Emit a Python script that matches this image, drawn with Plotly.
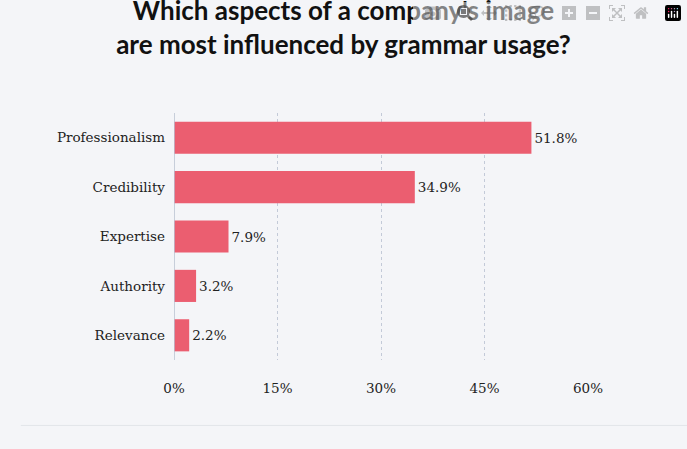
import plotly.graph_objects as go

categories = ["Professionalism", "Credibility", "Expertise", "Authority", "Relevance"]
values = [51.8, 34.9, 7.9, 3.2, 2.2]
tick_vals = [0, 15, 30, 45, 60]
tick_text = ["0%", "15%", "30%", "45%", "60%"]

fig = go.Figure(go.Bar(
    x=values, y=categories, orientation="h",
    marker=dict(color="#eb5e70", line=dict(width=0)),
    width=0.65,
    text=[f"{v}%" for v in values], textposition="outside",
    textfont=dict(family="DejaVu Serif", size=13.5, color="#222"),
    cliponaxis=False,
))
fig.update_layout(
    width=687, height=449,
    paper_bgcolor="#f4f5f8", plot_bgcolor="#f4f5f8",
    margin=dict(l=174, r=99, t=113, b=89),
    title=dict(text="Which aspects of a company's image<br>are most influenced by grammar usage?",
               x=0.5, xanchor="center", y=0.955, yanchor="top",
               font=dict(family="Lato", size=26, color="#111", weight="bold")),
    showlegend=False,
    xaxis=dict(range=[0, 60], tickvals=tick_vals, ticktext=tick_text,
               showgrid=True, gridcolor="#c3cad8", griddash="3px,3px", gridwidth=1,
               zeroline=False, showline=False,
               tickfont=dict(family="DejaVu Serif", size=13.5, color="#222"),
               ticks="", ticklabelstandoff=18),
    yaxis=dict(autorange="reversed", showgrid=False, zeroline=False,
               showline=False, ticks="",
               tickfont=dict(family="DejaVu Serif", size=13.5, color="#222"),
               ticklabelstandoff=8),
    shapes=[
        dict(type="line", xref="x", yref="paper", x0=0, x1=0, y0=0, y1=1,
             line=dict(color="#b8c0d0", width=1.5)),
        dict(type="line", xref="paper", yref="paper", x0=-0.37, x1=1.25, y0=-0.265, y1=-0.265,
             line=dict(color="#e2e5ea", width=1)),
    ],
)
fig.write_html("out.html", post_script="document.body.style.margin='0';document.body.style.background='#f4f5f8';")
